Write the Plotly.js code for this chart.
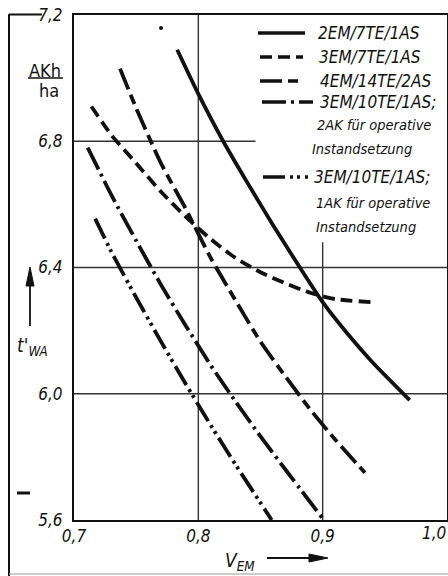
<!DOCTYPE html>
<html>
<head>
<meta charset="utf-8">
<script src="https://cdn.plot.ly/plotly-3.0.1.min.js"></script>
<style>html,body{margin:0;padding:0;background:#fff;}#chart{width:448px;height:576px;}</style>
</head>
<body>
<div id="chart"></div>
<script>
// ---- data ----
const seriesNames = ["2EM/7TE/1AS", "3EM/7TE/1AS", "4EM/14TE/2AS",
  "3EM/10TE/1AS; 2AK für operative Instandsetzung",
  "3EM/10TE/1AS; 1AK für operative Instandsetzung"];
const s1x = [0.783, 0.80, 0.82, 0.84, 0.86, 0.88, 0.90, 0.92, 0.94, 0.97];
const s1y = [7.09, 6.95, 6.80, 6.665, 6.535, 6.41, 6.29, 6.19, 6.10, 5.98];
const s2x = [0.714, 0.73, 0.75, 0.77, 0.79, 0.81, 0.83, 0.85, 0.87, 0.89, 0.91, 0.94];
const s2y = [6.91, 6.82, 6.73, 6.64, 6.56, 6.49, 6.43, 6.385, 6.35, 6.32, 6.30, 6.29];
const s3x = [0.737, 0.75, 0.77, 0.79, 0.81, 0.83, 0.85, 0.87, 0.89, 0.91, 0.934];
const s3y = [7.03, 6.905, 6.73, 6.585, 6.43, 6.295, 6.165, 6.055, 5.95, 5.855, 5.75];
const s4x = [0.711, 0.73, 0.75, 0.77, 0.79, 0.81, 0.83, 0.85, 0.87, 0.90];
const s4y = [6.78, 6.63, 6.485, 6.345, 6.215, 6.09, 5.975, 5.865, 5.76, 5.605];
const s5x = [0.717, 0.73, 0.75, 0.77, 0.79, 0.81, 0.83, 0.859];
const s5y = [6.555, 6.45, 6.305, 6.165, 6.03, 5.90, 5.775, 5.60];
const xTickVals = [0.7, 0.8, 0.9, 1.0];
const xTickText = ["0,7", "0,8", "0,9", "1,0"];
const yTickVals = [5.6, 6.0, 6.4, 6.8, 7.2];
const yTickText = ["5,6", "6,0", "6,4", "6,8", "7,2"];
const legendLines = [
  ["2EM/7TE/1AS"], ["3EM/7TE/1AS"], ["4EM/14TE/2AS"],
  ["3EM/10TE/1AS;", "2AK für operative", "Instandsetzung"],
  ["3EM/10TE/1AS;", "1AK für operative", "Instandsetzung"]];

// ---- styling ----
const FONT = "'DejaVu Sans Condensed', 'Liberation Sans Narrow', 'DejaVu Sans', sans-serif";
const INK = "#111";
const dashes = ["solid", "12px,6px", "22px,6px,10px,6px", "24px,5px,3px,5px", "22px,5px,3px,4px,3px,5px"];
const W = 448, H = 576, ML = 74, MR = 1, MT = 15, MB = 56;
const PW = W - ML - MR, PH = H - MT - MB;
const X = px => (px - ML) / PW;          // pixel -> paper
const Y = py => (H - MB - py) / PH;

const xs = [s1x, s2x, s3x, s4x, s5x], ys = [s1y, s2y, s3y, s4y, s5y];
const traces = xs.map((x, i) => ({
  x: x, y: ys[i], type: "scatter", mode: "lines", name: seriesNames[i],
  line: {color: INK, width: 3.8, dash: dashes[i], shape: "spline", smoothing: 0.6},
  hoverinfo: "skip", showlegend: false
}));

const gridLine = {color: "#333", width: 1.4};
const shapes = [
  {type: "line", xref: "x", yref: "y", x0: 0.8, x1: 0.8, y0: 5.6, y1: 7.2, line: gridLine, layer: "below"},
  {type: "line", xref: "x", yref: "y", x0: 0.9, x1: 0.9, y0: 5.6, y1: 6.48, line: gridLine, layer: "below"},
  {type: "line", xref: "x", yref: "y", x0: 0.7, x1: 0.846, y0: 6.8, y1: 6.8, line: gridLine, layer: "below"},
  {type: "line", xref: "x", yref: "y", x0: 0.7, x1: 1.0, y0: 6.4, y1: 6.4, line: gridLine, layer: "below"},
  {type: "line", xref: "x", yref: "y", x0: 0.7, x1: 1.0, y0: 6.0, y1: 6.0, line: gridLine, layer: "below"},
  // outer frame
  {type: "line", xref: "paper", yref: "paper", x0: X(9), x1: X(9), y0: Y(14), y1: Y(576), line: {color: INK, width: 2}},
  {type: "line", xref: "paper", yref: "paper", x0: X(9), x1: X(42), y0: Y(14.5), y1: Y(14.5), line: {color: INK, width: 2}},
  {type: "line", xref: "paper", yref: "paper", x0: X(9), x1: X(448), y0: Y(574), y1: Y(574), line: {color: "#999", width: 1}},
  // fraction line AKh/ha
  {type: "line", xref: "paper", yref: "paper", x0: X(28), x1: X(63), y0: Y(78), y1: Y(78), line: {color: INK, width: 1.6}},
  // y arrow
  {type: "line", xref: "paper", yref: "paper", x0: X(30), x1: X(30), y0: Y(326), y1: Y(282), line: {color: INK, width: 1.8}},
  {type: "path", xref: "paper", yref: "paper",
   path: `M ${X(30)} ${Y(267)} L ${X(26)} ${Y(286)} L ${X(34)} ${Y(286)} Z`, fillcolor: INK, line: {color: INK, width: 1}},
  // x arrow
  {type: "line", xref: "paper", yref: "paper", x0: X(267), x1: X(312), y0: Y(558), y1: Y(558), line: {color: INK, width: 1.8}},
  {type: "path", xref: "paper", yref: "paper",
   path: `M ${X(328)} ${Y(558)} L ${X(309)} ${Y(554)} L ${X(309)} ${Y(562)} Z`, fillcolor: INK, line: {color: INK, width: 1}},
  // scan marks
  {type: "line", xref: "paper", yref: "paper", x0: X(17), x1: X(30), y0: Y(493), y1: Y(493), line: {color: INK, width: 3}},
  {type: "circle", xref: "paper", yref: "paper", x0: X(159), x1: X(163), y0: Y(26), y1: Y(30), fillcolor: INK, line: {width: 0}}
];

// legend drawn by hand (sample lines + texts)
const legRows = [33, 57, 81, 102, 177];
const legX0 = [258, 260, 260, 262, 263], legX1 = [305, 303, 303, 313, 308];
const annotations = [];
legRows.forEach((ry, i) => {
  shapes.push({type: "line", xref: "paper", yref: "paper", x0: X(legX0[i]), x1: X(legX1[i]),
    y0: Y(ry), y1: Y(ry), line: {color: INK, width: 3.4, dash: dashes[i]}});
});
const legTextPos = [[316, 33], [317, 57], [318, 81], [318, 102], [315, 125], [310, 149], [312, 177], [314, 203], [314, 227]];
let k = 0;
legendLines.forEach(lines => lines.forEach((t, j) => {
  const p = legTextPos[k++];
  annotations.push({xref: "paper", yref: "paper", x: X(p[0]), y: Y(p[1]), xanchor: "left", yanchor: "middle",
    text: t, showarrow: false,
    font: {family: FONT, size: j === 0 ? 17 : 14.5, color: INK, style: "italic"}});
}));
const tickFont = {family: FONT, size: 17, color: INK, style: "italic"};
annotations.push(
  {xref: "paper", yref: "paper", x: X(45), y: Y(70), text: "AKh", showarrow: false, xanchor: "center", yanchor: "middle",
   font: {family: FONT, size: 18, color: INK}},
  {xref: "paper", yref: "paper", x: X(49), y: Y(90), text: "ha", showarrow: false, xanchor: "center", yanchor: "middle",
   font: {family: FONT, size: 18, color: INK}},
  {xref: "paper", yref: "paper", x: X(15), y: Y(346), text: "t'<sub>WA</sub>", showarrow: false, xanchor: "left", yanchor: "middle",
   font: {family: FONT, size: 19, color: INK, style: "italic"}},
  {xref: "paper", yref: "paper", x: X(223), y: Y(561), text: "V<sub>EM</sub>", showarrow: false, xanchor: "left", yanchor: "middle",
   font: {family: FONT, size: 19, color: INK, style: "italic"}},
  // last x tick label, kept inside the page at the right edge
  {xref: "paper", yref: "paper", x: X(448), y: Y(533), text: xTickText[3], showarrow: false,
   xanchor: "right", yanchor: "middle", font: tickFont}
);

const layout = {
  width: W, height: H,
  margin: {l: ML, r: MR, t: MT, b: MB, pad: 0},
  paper_bgcolor: "#fff", plot_bgcolor: "#fff",
  showlegend: false,
  xaxis: {range: [0.7, 1.0], tickvals: xTickVals.slice(0, 3), ticktext: xTickText.slice(0, 3), showgrid: false, zeroline: false,
    showline: true, mirror: true, linecolor: INK, linewidth: 2, ticks: "", tickfont: tickFont,
    fixedrange: true},
  yaxis: {range: [5.6, 7.2], tickvals: yTickVals, ticktext: yTickText, showgrid: false, zeroline: false,
    showline: true, mirror: true, linecolor: INK, linewidth: 2, ticks: "", tickfont: tickFont,
    ticklabelstandoff: 6, fixedrange: true},
  shapes: shapes,
  annotations: annotations
};
Plotly.newPlot("chart", traces, layout, {staticPlot: true, displayModeBar: false});
</script>
</body>
</html>
